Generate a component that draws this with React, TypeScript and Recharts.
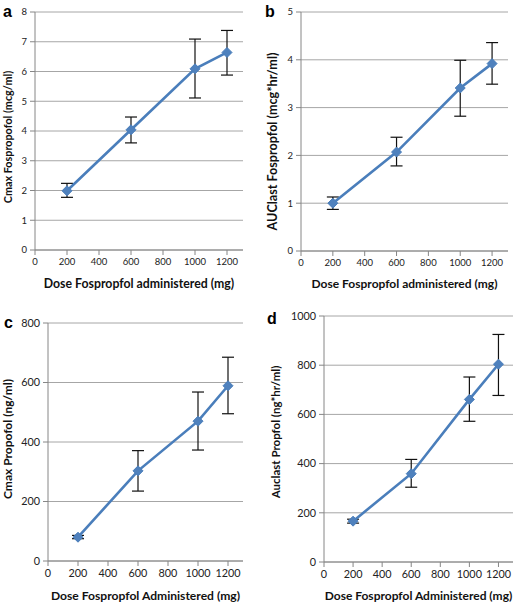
import React from 'react';
import { LineChart, Line, XAxis, YAxis, CartesianGrid, ErrorBar, Label } from 'recharts';

// ---------- data ----------
const doses = [200, 600, 1000, 1200];
const xTicks = [0, 200, 400, 600, 800, 1000, 1200];

// a: Cmax Fospropofol (mcg/ml)
const cmaxFosMean = [1.99, 4.04, 6.09, 6.64];
const cmaxFosLow = [1.77, 3.6, 5.11, 5.88];
const cmaxFosHigh = [2.24, 4.47, 7.09, 7.38];
const cmaxFosTicks = [0, 1, 2, 3, 4, 5, 6, 7, 8];

// b: AUClast Fospropfol (mcg*hr/ml)
const aucFosMean = [1.0, 2.07, 3.41, 3.92];
const aucFosLow = [0.87, 1.78, 2.82, 3.49];
const aucFosHigh = [1.13, 2.38, 3.99, 4.36];
const aucFosTicks = [0, 1, 2, 3, 4, 5];

// c: Cmax Propofol (ng/ml)
const cmaxPropMean = [80, 303, 470, 589];
const cmaxPropLow = [75, 235, 373, 495];
const cmaxPropHigh = [86, 371, 568, 685];
const cmaxPropTicks = [0, 200, 400, 600, 800];

// d: Auclast Propfol (ng*hr/ml)
const aucPropMean = [166, 359, 661, 804];
const aucPropLow = [158, 304, 572, 677];
const aucPropHigh = [174, 417, 752, 925];
const aucPropTicks = [0, 200, 400, 600, 800, 1000];

const FONT = 'Lato, "Open Sans", sans-serif';
const LINE = '#4A7EBB';
const MARK = '#4F81BD';
const GRID = '#A6A6A6';
const AXIS = '#868686';

const buildRows = (mean: number[], low: number[], high: number[]) =>
  doses.map((d, i) => ({ dose: d, mean: mean[i], err: [mean[i] - low[i], high[i] - mean[i]] }));

const Diamond = (props: any) => {
  const { cx, cy } = props;
  if (cx == null || cy == null) return null;
  const r = 5;
  return (
    <polygon
      points={`${cx},${cy - r} ${cx + r},${cy} ${cx},${cy + r} ${cx - r},${cy}`}
      fill={MARK}
      stroke={LINE}
      strokeWidth={1}
    />
  );
};

type PanelProps = {
  left: number;
  top: number;
  width: number;
  height: number;
  margin: { top: number; right: number; bottom: number; left: number };
  yAxisWidth: number;
  xAxisHeight: number;
  mean: number[];
  low: number[];
  high: number[];
  yTicks: number[];
  xTitle: string;
  yTitle: string;
  tickFont: number;
  xTitleFont: number;
  yTitleFont: number;
  yTitleX: number;
  yTitleShift: number;
  xTitleDy: number;
};

const Panel = (p: PanelProps) => {
  const rows = buildRows(p.mean, p.low, p.high);
  const yMax = p.yTicks[p.yTicks.length - 1];
  return (
    <div style={{ position: 'absolute', left: p.left, top: p.top }}>
      <LineChart width={p.width} height={p.height} data={rows} margin={p.margin}>
        <CartesianGrid horizontal vertical={false} stroke={GRID} strokeWidth={1} />
        <XAxis
          dataKey="dose"
          type="number"
          domain={[0, 1300]}
          ticks={xTicks}
          height={p.xAxisHeight}
          stroke={AXIS}
          tickSize={5}
          tickMargin={3}
          tick={{ fill: '#222', fontSize: p.tickFont, fontFamily: FONT }}
          tickLine={{ stroke: AXIS }}
        >
          <Label
            content={(lp: any) => {
              const vb = lp.viewBox || {};
              return (
                <text
                  x={vb.x + vb.width / 2}
                  y={vb.y + p.xTitleDy}
                  textAnchor="middle"
                  dominantBaseline="central"
                  fontFamily={FONT}
                  fontWeight="bold"
                  fontSize={p.xTitleFont}
                  fill="#111"
                >
                  {p.xTitle}
                </text>
              );
            }}
          />
        </XAxis>
        <YAxis
          type="number"
          domain={[0, yMax]}
          ticks={p.yTicks}
          width={p.yAxisWidth}
          stroke={AXIS}
          tickSize={5}
          tickMargin={3}
          tick={{ fill: '#222', fontSize: p.tickFont, fontFamily: FONT }}
          tickLine={{ stroke: AXIS }}
        >
          <Label
            content={(lp: any) => {
              const vb = lp.viewBox || {};
              const cy = vb.y + vb.height / 2 + p.yTitleShift;
              return (
                <text
                  x={p.yTitleX}
                  y={cy}
                  transform={`rotate(-90 ${p.yTitleX} ${cy})`}
                  textAnchor="middle"
                  dominantBaseline="central"
                  fontFamily={FONT}
                  fontWeight="bold"
                  fontSize={p.yTitleFont}
                  fill="#111"
                >
                  {p.yTitle}
                </text>
              );
            }}
          />
        </YAxis>
        <Line
          dataKey="mean"
          stroke={LINE}
          strokeWidth={2.6}
          dot={<Diamond />}
          activeDot={false}
          isAnimationActive={false}
        >
          <ErrorBar dataKey="err" direction="y" width={6} stroke="#111" strokeWidth={1.2} />
        </Line>
      </LineChart>
    </div>
  );
};

export default function App() {
  return (
    <div
      style={{
        position: 'absolute',
        left: 0,
        top: 0,
        width: 520,
        height: 602,
        background: '#fff',
        overflow: 'hidden',
      }}
    >
      <Panel
        left={0}
        top={0}
        width={260}
        height={300}
        margin={{ top: 12, right: 17, bottom: 0, left: 0 }}
        yAxisWidth={35}
        xAxisHeight={50}
        mean={cmaxFosMean}
        low={cmaxFosLow}
        high={cmaxFosHigh}
        yTicks={cmaxFosTicks}
        xTitle="Dose Fospropfol administered (mg)"
        yTitle="Cmax Fospropofol (mcg/ml)"
        tickFont={9.5}
        xTitleFont={12.3}
        yTitleFont={10.8}
        yTitleX={7.5}
        yTitleShift={6}
        xTitleDy={33}
      />
      <Panel
        left={260}
        top={0}
        width={260}
        height={300}
        margin={{ top: 12, right: 12, bottom: 0, left: 0 }}
        yAxisWidth={41}
        xAxisHeight={49}
        mean={aucFosMean}
        low={aucFosLow}
        high={aucFosHigh}
        yTicks={aucFosTicks}
        xTitle="Dose Fospropfol administered (mg)"
        yTitle="AUClast Fospropfol (mcg*hr/ml)"
        tickFont={9.5}
        xTitleFont={12}
        yTitleFont={12.6}
        yTitleX={12.5}
        yTitleShift={10}
        xTitleDy={32}
      />
      <Panel
        left={0}
        top={300}
        width={260}
        height={302}
        margin={{ top: 23, right: 17, bottom: 0, left: 0 }}
        yAxisWidth={48}
        xAxisHeight={41}
        mean={cmaxPropMean}
        low={cmaxPropLow}
        high={cmaxPropHigh}
        yTicks={cmaxPropTicks}
        xTitle="Dose Fospropfol Administered (mg)"
        yTitle="Cmax Propofol (ng/ml)"
        tickFont={10.8}
        xTitleFont={12.1}
        yTitleFont={12}
        yTitleX={7.5}
        yTitleShift={-3}
        xTitleDy={34}
      />
      <Panel
        left={260}
        top={300}
        width={260}
        height={302}
        margin={{ top: 16, right: 7, bottom: 0, left: 0 }}
        yAxisWidth={64}
        xAxisHeight={40}
        mean={aucPropMean}
        low={aucPropLow}
        high={aucPropHigh}
        yTicks={aucPropTicks}
        xTitle="Dose Fospropfol Administered (mg)"
        yTitle="Auclast Propfol (ng*hr/ml)"
        tickFont={10.8}
        xTitleFont={12}
        yTitleFont={11.5}
        yTitleX={15}
        yTitleShift={-7}
        xTitleDy={33}
      />
      <svg
        width={520}
        height={602}
        style={{ position: 'absolute', left: 0, top: 0, pointerEvents: 'none' }}
      >
        <g fontFamily='"Liberation Sans", Arial, sans-serif' fontWeight="bold" fontSize={16} fill="#000">
          <text x={3} y={17}>a</text>
          <text x={265} y={17}>b</text>
          <text x={4} y={327.5}>c</text>
          <text x={267} y={324}>d</text>
        </g>
      </svg>
    </div>
  );
}
